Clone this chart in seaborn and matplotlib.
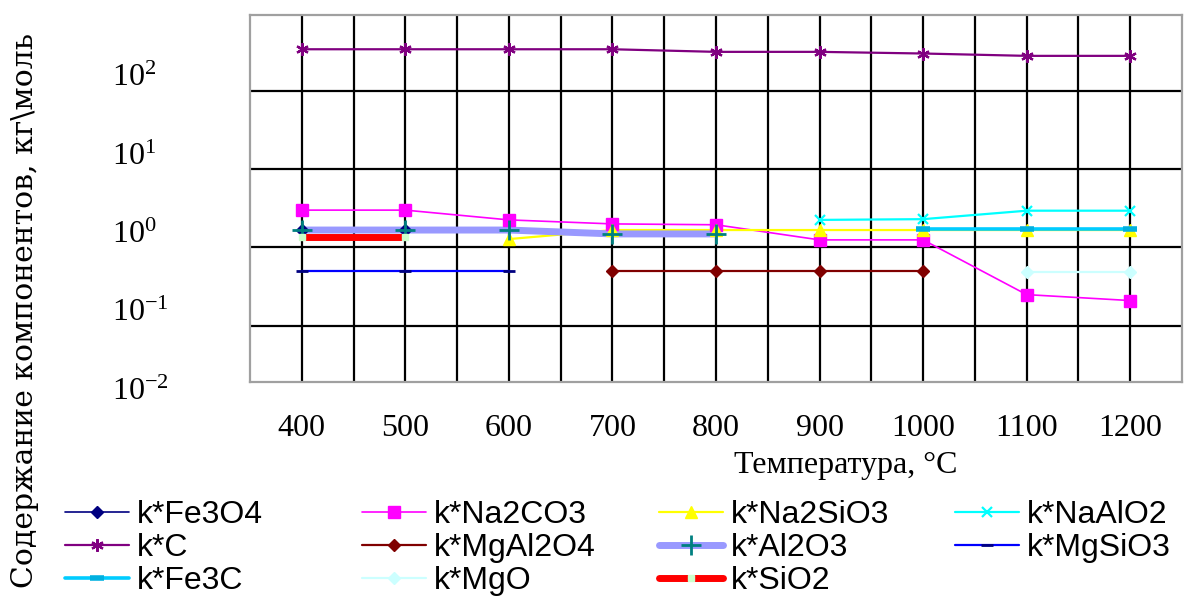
import matplotlib
matplotlib.use("Agg")
import matplotlib.pyplot as plt
import matplotlib.transforms as mtransforms
from matplotlib.lines import Line2D
from matplotlib.ticker import FixedLocator, NullLocator, NullFormatter
import seaborn as sns

# temperature, deg C
temps = [400, 500, 600, 700, 800, 900, 1000, 1100, 1200]

fe3o4_t = [400, 500]
fe3o4 = [1.67, 1.67]
na2co3_t = [400, 500, 600, 700, 800, 900, 1000, 1100, 1200]
na2co3 = [3.0, 3.0, 2.25, 2.0, 1.95, 1.25, 1.25, 0.25, 0.21]
na2sio3_t = [600, 700, 800, 900, 1000, 1100, 1200]
na2sio3 = [1.28, 1.67, 1.67, 1.67, 1.67, 1.67, 1.67]
naalo2_t = [900, 1000, 1100, 1200]
naalo2 = [2.25, 2.3, 2.95, 2.95]
c_t = [400, 500, 600, 700, 800, 900, 1000, 1100, 1200]
c = [340, 340, 340, 340, 315, 315, 300, 280, 280]
mgal2o4_t = [700, 800, 900, 1000]
mgal2o4 = [0.5, 0.5, 0.5, 0.5]
al2o3_t = [400, 500, 600, 700, 800]
al2o3 = [1.67, 1.67, 1.67, 1.49, 1.49]
mgsio3_t = [400, 500, 600]
mgsio3 = [0.5, 0.5, 0.5]
fe3c_t = [1000, 1100, 1200]
fe3c = [1.72, 1.72, 1.72]
mgo_t = [1100, 1200]
mgo = [0.49, 0.49]
sio2_t = [400, 500]
sio2 = [1.36, 1.36]

y_decades = [100, 10, 1, 0.1, 0.01]
y_labels = [r"$\mathregular{10^{2}}$", r"$\mathregular{10^{1}}$",
            r"$\mathregular{10^{0}}$", r"$\mathregular{10^{-1}}$",
            r"$\mathregular{10^{-2}}$"]

sns.set_style("white")
plt.rcParams["mathtext.fontset"] = "custom"
plt.rcParams["mathtext.rm"] = "Liberation Serif"
plt.rcParams["text.color"] = "black"
plt.rcParams["xtick.color"] = "black"
plt.rcParams["ytick.color"] = "black"

W, H = 1196, 604
fig = plt.figure(figsize=(W / 100, H / 100), dpi=100)
ax = fig.add_axes([250 / W, 1 - 382 / H, 932 / W, 367 / H])

# label, x, y, line colour, line width, marker, marker size, marker colour, marker edge width
series = [
    ("k*Fe3O4", fe3o4_t, fe3o4, "#000080", 1.2, "D", 6, "#000080", 1),
    ("k*Na2CO3", na2co3_t, na2co3, "#FF00FF", 1.2, "s", 8, "#FF00FF", 1),
    ("k*Na2SiO3", na2sio3_t, na2sio3, "#FFFF00", 1.6, "^", 8, "#FFFF00", 1),
    ("k*NaAlO2", naalo2_t, naalo2, "#00FFFF", 1.6, "x", 7, "#00FFFF", 1.6),
    ("k*C", c_t, c, "#800080", 1.6, (6, 2, 0), 9, "#800080", 1.6),
    ("k*MgAl2O4", mgal2o4_t, mgal2o4, "#800000", 1.6, "D", 6, "#800000", 1),
    ("k*Al2O3", al2o3_t, al2o3, "#9999FF", 5, "+", 14, "#008080", 2),
    ("k*MgSiO3", mgsio3_t, mgsio3, "#0000FF", 1.6, "_", 8, "#000080", 2),
    ("k*Fe3C", fe3c_t, fe3c, "#00CCFF", 2.6, "_", 10, "#00B0E0", 4),
    ("k*MgO", mgo_t, mgo, "#CCFFFF", 1.6, "D", 6, "#CCFFFF", 1),
    ("k*SiO2", sio2_t, sio2, "#FF0000", 5, "s", 4, "#CCFFCC", 1),
]

handles = []
for label, xs, ys, col, lw, mk, ms, mcol, mew in series:
    # lines first, markers on top (like the original chart)
    sns.lineplot(x=xs, y=ys, ax=ax, color=col, linewidth=lw, zorder=3)
    sns.lineplot(x=xs, y=ys, ax=ax, color=mcol, linestyle="none", marker=mk,
                 markersize=ms, markerfacecolor=mcol, markeredgecolor=mcol,
                 markeredgewidth=mew, zorder=4)
    handles.append(Line2D([], [], color=col, linewidth=lw, marker=mk,
                          markersize=ms, markerfacecolor=mcol,
                          markeredgecolor=mcol, markeredgewidth=mew,
                          label=label))

ax.set_yscale("log")
ax.set_ylim(10 ** -1.718, 10 ** 2.969)
ax.set_xlim(350, 1250)

ax.yaxis.set_major_locator(FixedLocator([0.1, 1, 10, 100]))
ax.yaxis.set_minor_locator(NullLocator())
ax.yaxis.set_major_formatter(NullFormatter())
ax.set_xticks(temps)
ax.set_xticklabels([str(t) for t in temps], fontfamily="Liberation Serif", fontsize=23)
ax.xaxis.set_minor_locator(FixedLocator(list(range(450, 1200, 100))))
ax.tick_params(axis="both", which="both", length=0)
ax.tick_params(axis="x", pad=23)
ax.grid(True, which="both", axis="x", color="black", linewidth=1.6, zorder=1)
ax.grid(True, which="major", axis="y", color="black", linewidth=1.6, zorder=1)
ax.set_axisbelow(True)
for sp in ax.spines.values():
    sp.set_color("#A0A0A0")
    sp.set_linewidth(1.6)
ax.set_xlabel("")
ax.set_ylabel("")

# decade labels, drawn a little above their grid lines as in the original
shift = mtransforms.ScaledTranslation(0, 12 / 100, fig.dpi_scale_trans)
trans = mtransforms.blended_transform_factory(ax.transAxes, ax.transData) + shift
for val, txt in zip(y_decades, y_labels):
    ax.text(-0.148, val, txt, transform=trans, ha="left", va="center",
            fontfamily="Liberation Serif", fontsize=23)

fig.text(846 / W, 1 - 466 / H, "Температура, °С", ha="center", va="center",
         fontfamily="Liberation Serif", fontsize=23)
fig.text(25 / W, 1 - 310 / H, "Содержание компонентов, кг\\моль", rotation=90,
         ha="center", va="center", fontfamily="DejaVu Serif", fontsize=21.5)

# legend: four columns, filled row by row
col_x = [65, 362, 659, 955]
for i, x0 in enumerate(col_x):
    col_handles = handles[i::4]
    fig.legend(handles=col_handles, loc="upper left",
               bbox_to_anchor=(x0 / W, 1 - 500 / H), frameon=False,
               borderpad=0, borderaxespad=0, handlelength=2.0,
               handletextpad=0.25, labelspacing=0.1,
               prop={"family": "Liberation Sans", "size": 23})

fig.savefig("out.png", dpi=100)
